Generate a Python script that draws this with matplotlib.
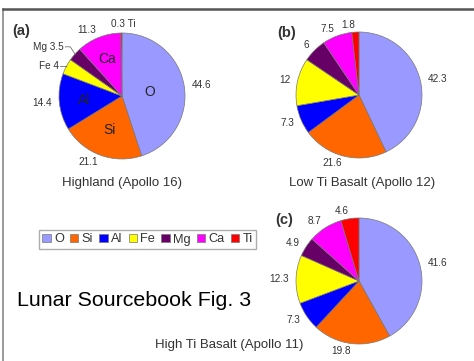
import matplotlib
matplotlib.use("Agg")
import matplotlib.pyplot as plt
from matplotlib.patches import Patch
from matplotlib.lines import Line2D
import numpy as np

plt.rcParams['font.family'] = ['Liberation Sans', 'DejaVu Sans']

elements = ["O", "Si", "Al", "Fe", "Mg", "Ca", "Ti"]
colors = ["#9999FF", "#FF6600", "#0000FF", "#FFFF00", "#660066", "#FF00FF", "#FF0000"]

highland = [44.6, 21.1, 14.4, 4.0, 3.5, 11.3, 0.3]
low_ti = [42.3, 21.6, 7.3, 12.0, 6.0, 7.5, 1.8]
high_ti = [41.6, 19.8, 7.3, 12.3, 4.9, 8.7, 4.6]

highland_labels = ["44.6", "21.1", "14.4", "Fe 4", "Mg 3.5", "11.3", "0.3 Ti"]
low_ti_labels = ["42.3", "21.6", "7.3", "12", "6", "7.5", "1.8"]
high_ti_labels = ["41.6", "19.8", "7.3", "12.3", "4.9", "8.7", "4.6"]

titles = ["Highland (Apollo 16)", "Low Ti Basalt (Apollo 12)", "High Ti Basalt (Apollo 11)"]

W, H = 474, 361
fig = plt.figure(figsize=(W / 100, H / 100), dpi=100)

R = 63
NUM_FS = 7.2
TXT = "#333333"


def make_ax(cx, cy):
    ax = fig.add_axes([(cx - R) / W, (H - cy - R) / H, 2 * R / W, 2 * R / H])
    return ax


def draw_pie(ax, vals, labels, ldist=1.12, skip=()):
    wedges, texts = ax.pie(vals, colors=colors, startangle=90, counterclock=False,
                           labels=[("" if i in skip else l) for i, l in enumerate(labels)],
                           labeldistance=ldist,
                           wedgeprops=dict(edgecolor="#777777", linewidth=0.5),
                           textprops=dict(fontsize=NUM_FS, color=TXT))
    for w in wedges:
        w.set_clip_on(False)
    ax.set_xlim(-1, 1)
    ax.set_ylim(-1, 1)
    ax.set_aspect('equal')
    ax.set_axis_off()
    return wedges, texts


def mid_angle(vals, i):
    tot = sum(vals)
    cum = sum(vals[:i]) + vals[i] / 2
    return np.deg2rad(90 - 360 * cum / tot)


# (a) Highland
ax_a = make_ax(122, 96)
draw_pie(ax_a, highland, highland_labels, ldist=1.12, skip=(3, 4, 6))
ax_a.text(0.02, 1.06, highland_labels[6], ha="center", va="bottom", fontsize=NUM_FS,
          color=TXT)
for i, (tx, ty) in zip((3, 4), ((-1.0, 0.47), (-0.92, 0.78))):
    a = mid_angle(highland, i)
    ex, ey = 0.99 * np.cos(a), 0.99 * np.sin(a)
    ax_a.plot([tx + 0.02, tx + 0.1, ex], [ty, ty, ey], color="#555555", lw=0.5,
              clip_on=False)
    ax_a.text(tx, ty, highland_labels[i], ha="right", va="center", fontsize=NUM_FS,
              color=TXT)
for i, r in ((0, 0.45), (1, 0.57), (2, 0.6), (5, 0.63)):
    a = mid_angle(highland, i)
    ax_a.text(r * np.cos(a), r * np.sin(a), elements[i], ha="center", va="center",
              fontsize=10, color="#222222")
fig.text(122 / W, 1 - 183 / H, titles[0], ha="center", va="center", fontsize=9.5,
         color=TXT)
fig.text(12 / W, 1 - 31 / H, "(a)", fontsize=10.5, fontweight="bold", color=TXT,
         va="center")

# (b) Low Ti
ax_b = make_ax(359, 95)
draw_pie(ax_b, low_ti, low_ti_labels, ldist=1.12)
fig.text(362 / W, 1 - 183 / H, titles[1], ha="center", va="center", fontsize=9.5,
         color=TXT)
fig.text(277 / W, 1 - 33 / H, "(b)", fontsize=10.5, fontweight="bold", color=TXT,
         va="center")

# (c) High Ti
ax_c = make_ax(359, 281)
draw_pie(ax_c, high_ti, high_ti_labels, ldist=1.12)
fig.text(229 / W, 1 - 345 / H, titles[2], ha="center", va="center", fontsize=9.5,
         color=TXT)
fig.text(275 / W, 1 - 220 / H, "(c)", fontsize=10.5, fontweight="bold", color=TXT,
         va="center")

# Legend
handles = [Patch(facecolor=c, edgecolor="#777777", linewidth=0.5, label=e)
           for e, c in zip(elements, colors)]
fig.legend(handles=handles, loc="center", bbox_to_anchor=(147.5 / W, 1 - 239.5 / H),
           ncol=7, fontsize=9.2, frameon=True, fancybox=False, edgecolor="#999999",
           handlelength=0.65, handleheight=0.65, handletextpad=0.25, columnspacing=0.5,
           borderpad=0.3, borderaxespad=0, labelcolor=TXT)

fig.text(17 / W, 1 - 301 / H, "Lunar Sourcebook Fig. 3", fontsize=15.4, color="black",
         va="center", ha="left")

# frame lines
fig.add_artist(Line2D([3 / W, 3 / W], [0, 1 - 8.5 / H], color="#888888", lw=1.2,
                      transform=fig.transFigure))
fig.add_artist(Line2D([3 / W, 1], [1 - 8.5 / H, 1 - 8.5 / H], color="#555555", lw=1.8,
                      transform=fig.transFigure))

fig.savefig("out.png", dpi=100)
